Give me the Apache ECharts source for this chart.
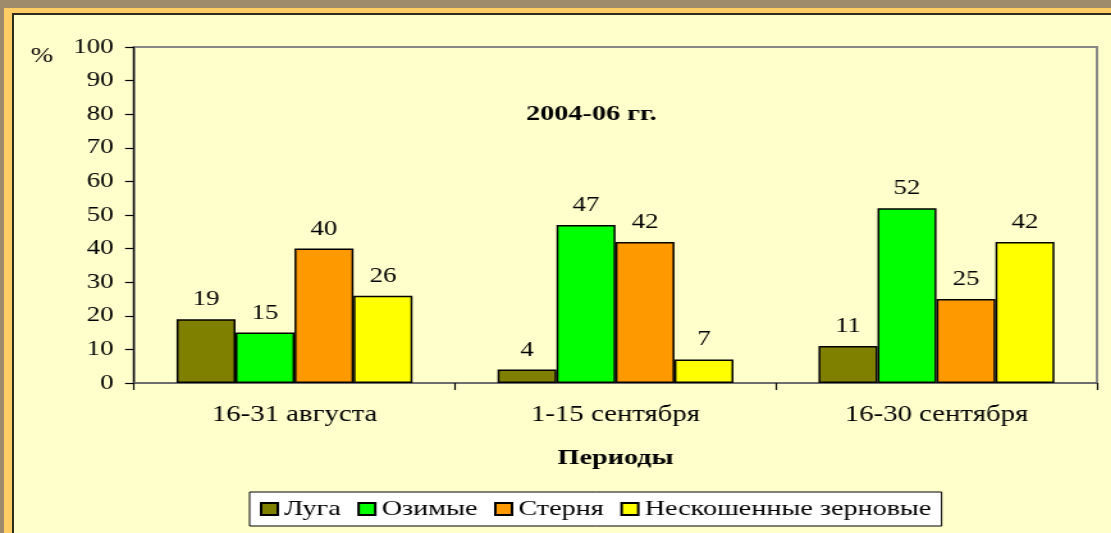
<!DOCTYPE html>
<html>
<head>
<meta charset="utf-8">
<script src="https://cdn.jsdelivr.net/npm/echarts@6/dist/echarts.min.js"></script>
<style>
  html, body { margin: 0; padding: 0; }
  body { width: 1111px; height: 533px; overflow: hidden; position: relative;
         background: #9e8b6c; }
  .orange { position: absolute; left: 4px; top: 8px; right: 0; bottom: 0; background: #ffcc66; }
  .dark { position: absolute; left: 12px; top: 13px; right: 0; bottom: 0; background: #2e2a1c; }
  .panel { position: absolute; left: 14px; top: 15px; right: 0; bottom: 0; background: #ffffcc; }
  /* the source slide is stretched horizontally, so draw narrow and stretch */
  #chart { position: absolute; left: 0; top: 0; width: 868px; height: 533px;
           transform: scaleX(1.28); transform-origin: 0 0; }
</style>
</head>
<body>
<div class="orange"></div>
<div class="dark"></div>
<div class="panel"></div>
<div id="chart"></div>
<script>
  const periods = ['16-31 августа', '1-15 сентября', '16-30 сентября'];
  const luga = [19, 4, 11];
  const ozimye = [15, 47, 52];
  const sternya = [40, 42, 25];
  const neskoshennye = [26, 7, 42];
  const yTicks = { min: 0, max: 100, step: 10 };

  const font = "'Liberation Serif', 'Times New Roman', serif";
  const myChart = echarts.init(document.getElementById('chart'), null, { renderer: 'canvas' });

  function barSeries(name, values, color) {
    return {
      name: name,
      type: 'bar',
      data: values,
      barGap: '0%',
      barCategoryGap: '26.5%',
      itemStyle: { color: color, borderColor: '#000', borderWidth: 1.5 },
      label: {
        show: true,
        position: 'top',
        distance: 9,
        color: '#000',
        fontFamily: font,
        fontSize: 21
      }
    };
  }

  const option = {
    animation: false,
    backgroundColor: 'transparent',
    title: {
      text: '2004-06 гг.',
      left: 457,
      top: 98,
      textAlign: 'center',
      textStyle: { fontFamily: font, fontSize: 22, fontWeight: 'bold', color: '#000' }
    },
    graphic: [{
      type: 'text',
      left: 24,
      top: 46,
      style: { text: '%', font: '21px ' + font, fill: '#000' }
    }],
    legend: {
      left: 195,
      top: 492,
      padding: [6, 8],
      backgroundColor: '#fff',
      borderColor: '#000',
      borderWidth: 1,
      borderRadius: 0,
      icon: 'rect',
      itemWidth: 13,
      itemHeight: 12,
      itemGap: 13,
      textStyle: { fontFamily: font, fontSize: 22, color: '#000' },
      data: ['Луга', 'Озимые', 'Стерня', 'Нескошенные зерновые']
    },
    grid: {
      left: 104.7,
      right: 11,
      top: 47,
      bottom: 150,
      show: true,
      borderColor: '#888',
      borderWidth: 2,
      containLabel: false
    },
    xAxis: {
      type: 'category',
      data: periods,
      name: 'Периоды',
      nameLocation: 'middle',
      nameGap: 64,
      nameTextStyle: { fontFamily: font, fontSize: 22, fontWeight: 'bold', color: '#000' },
      axisLine: { lineStyle: { color: '#666', width: 1.5 } },
      axisTick: { show: true, length: 7, lineStyle: { color: '#000', width: 1.2 } },
      axisLabel: { margin: 21, fontFamily: font, fontSize: 22.5, color: '#000' },
      splitLine: { show: false }
    },
    yAxis: {
      type: 'value',
      min: yTicks.min,
      max: yTicks.max,
      interval: yTicks.step,
      axisLine: { show: true, lineStyle: { color: '#000', width: 1.2 } },
      axisTick: { show: true, length: 7, lineStyle: { color: '#000', width: 1.2 } },
      axisLabel: { margin: 16, fontFamily: font, fontSize: 21, color: '#000' },
      splitLine: { show: false }
    },
    series: [
      barSeries('Луга', luga, '#808000'),
      barSeries('Озимые', ozimye, '#00ff00'),
      barSeries('Стерня', sternya, '#ff9900'),
      barSeries('Нескошенные зерновые', neskoshennye, '#ffff00')
    ]
  };

  myChart.setOption(option);
</script>
</body>
</html>
